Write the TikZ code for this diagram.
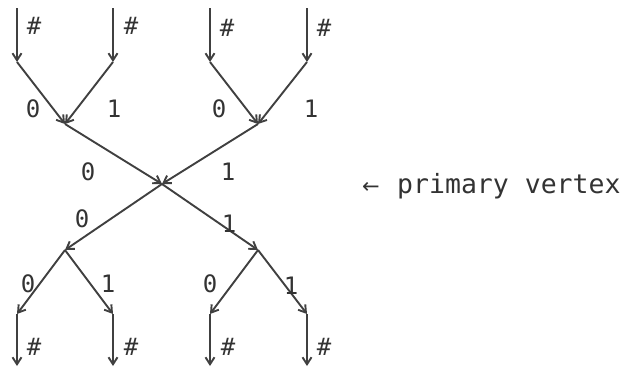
\documentclass[tikz,border=0pt]{standalone}
\usepackage{fontspec}
\setmonofont{DejaVu Sans Mono}
\newfontfamily\arrowfont{DejaVu Sans}
\usetikzlibrary{arrows.meta}
\begin{document}
\begin{tikzpicture}[x=1pt,y=-1pt,
  edge/.style={draw=black!75,line width=1.9pt,-{Straight Barb[length=7pt,width=9pt]}},
  lab/.style={font=\ttfamily\fontsize{24}{24}\selectfont,text=black!80,inner sep=0pt},
  hash/.style={font=\ttfamily\fontsize{24}{24}\selectfont,text=black!80,inner sep=0pt}]
\useasboundingbox (0,0) rectangle (624,368);
% vertices
\coordinate (t1) at (17,8);
\coordinate (t2) at (113,8);
\coordinate (t3) at (210,8);
\coordinate (t4) at (307,8);
\coordinate (a1) at (17,62);
\coordinate (a2) at (113,62);
\coordinate (a3) at (210,62);
\coordinate (a4) at (307,62);
\coordinate (b1) at (65,124);
\coordinate (b2) at (258,124);
\coordinate (p) at (162,184);
\coordinate (c1) at (65,250);
\coordinate (c2) at (258,250);
\coordinate (d1) at (17,314);
\coordinate (d2) at (113,314);
\coordinate (d3) at (210,314);
\coordinate (d4) at (307,314);
\coordinate (e1) at (17,366);
\coordinate (e2) at (113,366);
\coordinate (e3) at (210,366);
\coordinate (e4) at (307,366);
% edges
\foreach \i in {1,2,3,4} {\draw[edge] (t\i) -- (a\i);}
\draw[edge] (a1) -- (b1);
\draw[edge] (a2) -- (b1);
\draw[edge] (a3) -- (b2);
\draw[edge] (a4) -- (b2);
\draw[edge] (b1) -- (p);
\draw[edge] (b2) -- (p);
\draw[edge] (p) -- (c1);
\draw[edge] (p) -- (c2);
\draw[edge] (c1) -- (d1);
\draw[edge] (c1) -- (d2);
\draw[edge] (c2) -- (d3);
\draw[edge] (c2) -- (d4);
\foreach \i in {1,2,3,4} {\draw[edge] (d\i) -- (e\i);}
% hash labels
\node[hash] (h1) at (34,26) {\#};
\node[hash] (h2) at (131,26) {\#};
\node[hash] (h3) at (227,28) {\#};
\node[hash] (h4) at (324,28) {\#};
\node[hash] (h5) at (34,347) {\#};
\node[hash] (h6) at (131,347) {\#};
\node[hash] (h7) at (228,347) {\#};
\node[hash] (h8) at (324,347) {\#};
% digit labels
\node[lab] (l1) at (33,109) {0};
\node[lab] (l2) at (114,109) {1};
\node[lab] (l3) at (219,109) {0};
\node[lab] (l4) at (311,109) {1};
\node[lab] (l5) at (88,172) {0};
\node[lab] (l6) at (228,172) {1};
\node[lab] (l7) at (82,219) {0};
\node[lab] (l8) at (229,224) {1};
\node[lab] (l9) at (28,284) {0};
\node[lab] (l10) at (108,284) {1};
\node[lab] (l11) at (210,284) {0};
\node[lab] (l12) at (291,286) {1};
% primary vertex label
\node[font=\ttfamily\fontsize{26.5}{26.5}\selectfont,text=black!80,anchor=west,inner sep=0pt] (pv) at (397,186) {primary vertex};
\node[font=\arrowfont\fontsize{21}{21}\selectfont,text=black!80,inner sep=0pt] (arr) at (371,188) {←};
\end{tikzpicture}
\end{document}
